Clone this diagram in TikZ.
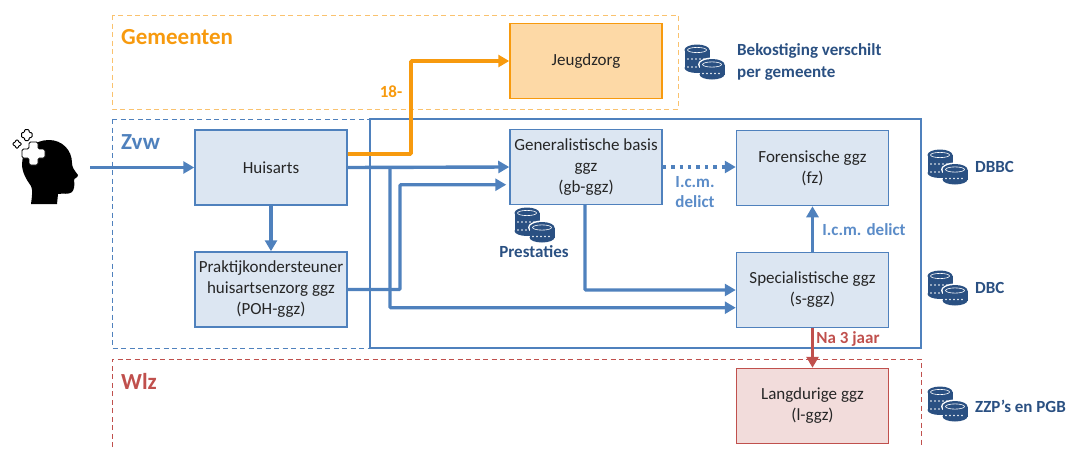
\documentclass[tikz,border=0pt]{standalone}
\usepackage{fontspec}
\setmainfont{Carlito}
\usepackage{tikz}
\usetikzlibrary{positioning, arrows.meta}

\definecolor{zvwblue}{HTML}{4F81BD}
\definecolor{boxblue}{HTML}{DCE6F2}
\definecolor{textblue}{HTML}{5B8CC8}
\definecolor{coinblue}{HTML}{2A5082}
\definecolor{gemorange}{HTML}{F79A0E}
\definecolor{boxorange}{HTML}{FDD9A6}
\definecolor{wlzred}{HTML}{C0504D}
\definecolor{boxred}{HTML}{F2DCDB}
\definecolor{bodytext}{HTML}{262626}

\tikzset{
  pics/coins/.style={code={
    \foreach \cx/\ty/\rows in {-8/-13/2, 7/1.5/1}{
      \fill[white] (\cx,\ty) ellipse (14 and 7);
      \fill[coinblue] (\cx-12.5,\ty) rectangle (\cx+12.5,\ty+2+8*\rows);
      \fill[coinblue] (\cx,\ty) ellipse (12.5 and 5.5);
      \fill[coinblue] (\cx,\ty+2+8*\rows) ellipse (12.5 and 5);
      \draw[white, line width=0.6pt] (\cx,\ty) ellipse (9.5 and 2.6);
      \foreach \r in {1,...,\rows}{
        \foreach \dx in {-9,-5,-1,3,7}{
          \fill[white] (\cx+\dx,\ty+1+8*\r) circle (0.8);
        }
      }
    }
  }}
}

\begin{document}
\begin{tikzpicture}[x=1pt, y=-1pt, node distance=122pt,
  main node/.style={rectangle, draw=zvwblue, line width=1.5pt, fill=boxblue, text=bodytext,
    minimum width=152pt, minimum height=75pt, inner sep=1pt, align=center, font=\fontsize{17}{21}\selectfont},
  frame title/.style={font=\fontsize{23}{27}\selectfont\bfseries, anchor=west, inner sep=0pt},
  cost label/.style={text=coinblue, font=\fontsize{17}{22}\selectfont\bfseries, anchor=west, align=left, inner sep=0pt},
  flow label/.style={font=\fontsize{17}{20}\selectfont\bfseries, align=center, inner sep=0pt},
  blue arrow/.style={draw=zvwblue, line width=3.4pt, -{Triangle[length=11pt, width=12pt]}},
  orange arrow/.style={draw=gemorange, line width=3.8pt, -{Triangle[length=11pt, width=12pt]}},
  red arrow/.style={draw=wlzred, line width=3.4pt, -{Triangle[length=11pt, width=12pt]}}]

\useasboundingbox (0,0) rectangle (1067,450);

% frames
\draw[gemorange!60, line width=1pt, dash pattern=on 5pt off 3.5pt] (112,15) rectangle (678,109);
\draw[zvwblue, line width=1.1pt] (370,119) rectangle (921,348);
\draw[zvwblue, line width=1pt, dash pattern=on 5pt off 3.5pt] (112,119) rectangle (370,348);
\draw[wlzred, line width=1pt, dash pattern=on 5pt off 3.5pt] (112,447) -- (112,359) -- (921,359) -- (921,447);

\node[frame title, text=gemorange] (gemeenten) at (121,37) {Gemeenten};
\node[frame title, text=zvwblue] (zvw) at (121,142) {Zvw};
\node[frame title, text=wlzred] (wlz) at (121,381) {Wlz};

% boxes
\node[main node] (huisarts) at (271,167.5) {Huisarts};
\node[main node] (poh) [below of=huisarts] {Praktijkondersteuner\\huisartsenzorg ggz\\(POH-ggz)};
\node[main node] (gbggz) at (586,167) {Generalistische basis\\ggz\\(gb-ggz)};
\node[main node] (fz) at (812.5,168) {Forensische ggz\\(fz)};
\node[main node] (sggz) [below of=fz] {Specialistische ggz\\(s-ggz)};
\node[main node, draw=gemorange, fill=boxorange] (jeugd) at (586,61) {Jeugdzorg};
\node[main node, draw=wlzred, fill=boxred] (lggz) at (812.5,406) {Langdurige ggz\\(l-ggz)};

% person
\node[minimum width=58pt, minimum height=66pt, inner sep=0pt] (person) at (50,171) {};
\fill[black] (31,204) .. controls (32,196) and (33,190) .. (31,186)
  .. controls (26,179) and (22,172) .. (22,164)
  .. controls (22,150) and (35,140) .. (49,140)
  .. controls (62,140) and (72,150) .. (72,163)
  .. controls (72,167) and (74,170) .. (78,175)
  .. controls (78,178) and (74,178) .. (74,180)
  .. controls (75,185) and (74,190) .. (72,192)
  .. controls (69,195) and (62,193) .. (58,194)
  -- (57,204) -- cycle;
\draw[fill=white, draw=black, line width=0.8pt, rounded corners=1.5pt]
  (29,142) -- (38,142) -- (38,149) -- (45,149) -- (45,158) -- (38,158) -- (38,165) -- (29,165)
  -- (29,158) -- (22,158) -- (22,149) -- (29,149) -- cycle;
\draw[fill=white, draw=black, line width=1pt, rounded corners=1pt]
  (24.5,129.5) -- (29,129.5) -- (29,132.5) -- (32,132.5) -- (32,137.5) -- (29,137.5) -- (29,140.5) -- (24.5,140.5)
  -- (24.5,137.5) -- (21.5,137.5) -- (21.5,132.5) -- (24.5,132.5) -- cycle;
\draw[fill=white, draw=black, line width=1pt, rounded corners=1pt]
  (15.5,140) -- (18.5,140) -- (18.5,142.5) -- (21,142.5) -- (21,145.5) -- (18.5,145.5) -- (18.5,148) -- (15.5,148)
  -- (15.5,145.5) -- (13,145.5) -- (13,142.5) -- (15.5,142.5) -- cycle;

% connectors
\coordinate (orange bend) at (411,61);
\coordinate (branch) at (390,167);
\coordinate (poh bend) at (400,289.5);
\coordinate (gb drop) at (585,204);

\draw[blue arrow] (person.east |- huisarts.west) ++(11,0) -- (huisarts.west);
\draw[blue arrow] (huisarts) -- (poh);
\draw[blue arrow] (huisarts.east) -- (gbggz.west);
\draw[blue arrow, rounded corners=1pt] (branch) |- (sggz.193.3);
\draw[blue arrow, rounded corners=1pt, shorten >=3pt] (poh.east) -- (poh bend) |- (gbggz.193.3);
\draw[blue arrow, rounded corners=1pt] (gb drop) |- (sggz.west);
\draw[blue arrow] (sggz) -- (fz);
\draw[blue arrow, dash pattern=on 3.4pt off 5pt] (gbggz) -- (fz.west |- gbggz);
\draw[orange arrow, rounded corners=1pt] (huisarts.10) -| (orange bend) -- (jeugd.west);
\draw[red arrow] (sggz) -- (lggz);

% connector labels
\node[flow label, text=gemorange] (age) at (391,92) {18-};
\node[flow label, text=textblue] (delict a) at (695,192) {I.c.m.\\delict};
\node[flow label, text=textblue] (delict b) at (864,230) {I.c.m. delict};
\node[flow label, text=wlzred] (three years) at (848,339) {Na 3 jaar};

% costs
\pic at (705,63) {coins};
\pic at (948,168) {coins};
\pic at (948,289) {coins};
\pic at (948,405) {coins};
\pic at (535,226) {coins};
\node[cost label] (cost gem) at (737,62) {Bekostiging verschilt\\per gemeente};
\node[cost label] (cost dbbc) at (975,167) {DBBC};
\node[cost label] (cost dbc) at (975,288) {DBC};
\node[cost label] (cost zzp) at (975,406) {ZZP’s en PGB};
\node[cost label, anchor=center] (cost prest) at (534,252) {Prestaties};

\end{tikzpicture}
\end{document}
